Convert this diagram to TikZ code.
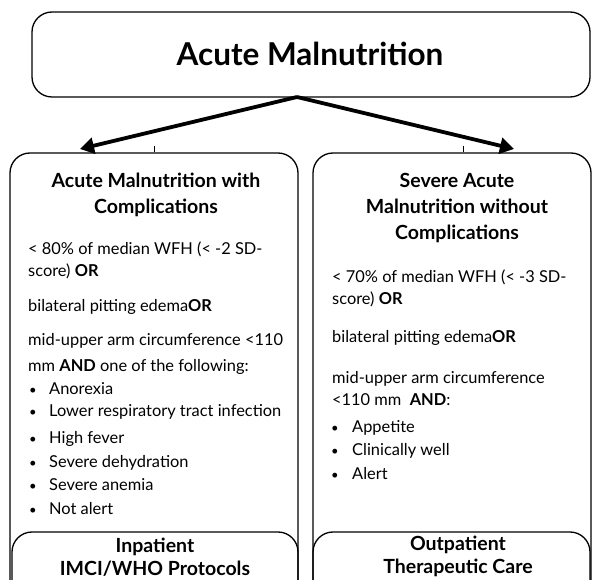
\documentclass[tikz,border=0pt]{standalone}
\usepackage{fontspec}
\setmainfont{Lato}
\usetikzlibrary{arrows.meta}
\begin{document}
\begin{tikzpicture}[x=1pt,y=-1pt,
  box/.style={draw,line width=1.3pt,rounded corners=20pt,inner sep=0pt},
  arr/.style={line width=3.8pt,-{Triangle[length=14pt,width=16pt]}},
  tick/.style={line width=0.8pt},
  body/.style={anchor=base west,inner sep=0pt,font=\fontsize{16.4}{19}\selectfont},
  head/.style={anchor=base,inner sep=0pt,font=\fontsize{19.5}{22}\selectfont\bfseries},
  blt/.style={anchor=base west,inner sep=0pt,font=\fontsize{13}{15}\selectfont}]
\useasboundingbox (0,0) rectangle (595,580);
\clip (0,0) rectangle (595,580);
% boxes
\node[box,minimum width=558pt,minimum height=85pt] (top) at (311,54.5) {};
\node[anchor=base,inner sep=0pt,font=\fontsize{31.5}{35}\selectfont\bfseries] (title) at (310,66) {Acute Malnutrition};
\node[box,minimum width=288pt,minimum height=450pt] (lbox) at (154,378) {};
\node[box,minimum width=278pt,minimum height=450pt] (rbox) at (452,378) {};
\node[box,minimum width=286pt,minimum height=80pt] (lbot) at (155,572) {};
\node[box,minimum width=277pt,minimum height=80pt] (rbot) at (451.5,572) {};
% arrows
\coordinate (apex) at (297,97);
\coordinate (ltip) at (80,149);
\coordinate (rtip) at (514,149);
\draw[arr] (apex) -- (ltip);
\draw[arr] (apex) -- (rtip);
\coordinate (lt) at (154,146);
\coordinate (rt) at (463,146);
\draw[tick] (lt) -- (lt |- lbox.north);
\draw[tick] (rt) -- (rt |- rbox.north);
% left text
\node[head] (l1) at (156,188) {Acute Malnutrition with};
\node[head] (l2) at (156,214) {Complications};
\node[body] (l3) at (28,255) {< 80\% of median WFH (< -2 SD-};
\node[body] (l4) at (28,277) {score) \textbf{OR}};
\node[body] (l5) at (28,312) {bilateral pitting edema\textbf{OR}};
\node[body] (l6) at (28,345) {mid-upper arm circumference <110};
\node[body] (l7) at (28,372) {mm \textbf{AND} one of the following:};
\foreach \t/\y/\n in {Anorexia/394/a,Lower respiratory tract infection/417/b,High fever/443/c,Severe dehydration/467/d,Severe anemia/490/e,Not alert/514/f}{
  \node[blt] (lb\n) at (29,\y) {•};
  \node[body] (lt\n) at (49,\y) {\t};
}
\node[head] (l8) at (155,552) {Inpatient};
\node[head] (l9) at (155,575) {IMCI/WHO Protocols};
% right text
\node[head] (r1) at (457,188) {Severe Acute};
\node[head] (r2) at (457,214) {Malnutrition without};
\node[head] (r3) at (457,240) {Complications};
\node[body] (r4) at (332,283) {< 70\% of median WFH (< -3 SD-};
\node[body] (r5) at (332,305) {score) \textbf{OR}};
\node[body] (r6) at (332,342) {bilateral pitting edema\textbf{OR}};
\node[body] (r7) at (332,383) {mid-upper arm circumference};
\node[body] (r8) at (332,405) {<110 mm~~\textbf{AND}:};
\foreach \t/\y/\n in {Appetite/432/a,Clinically well/455/b,Alert/479/c}{
  \node[blt] (rb\n) at (331,\y) {•};
  \node[body] (rt\n) at (352,\y) {\t};
}
\node[head] (r9) at (458,550) {Outpatient};
\node[head] (r10) at (458,573) {Therapeutic Care};
\end{tikzpicture}
\end{document}
